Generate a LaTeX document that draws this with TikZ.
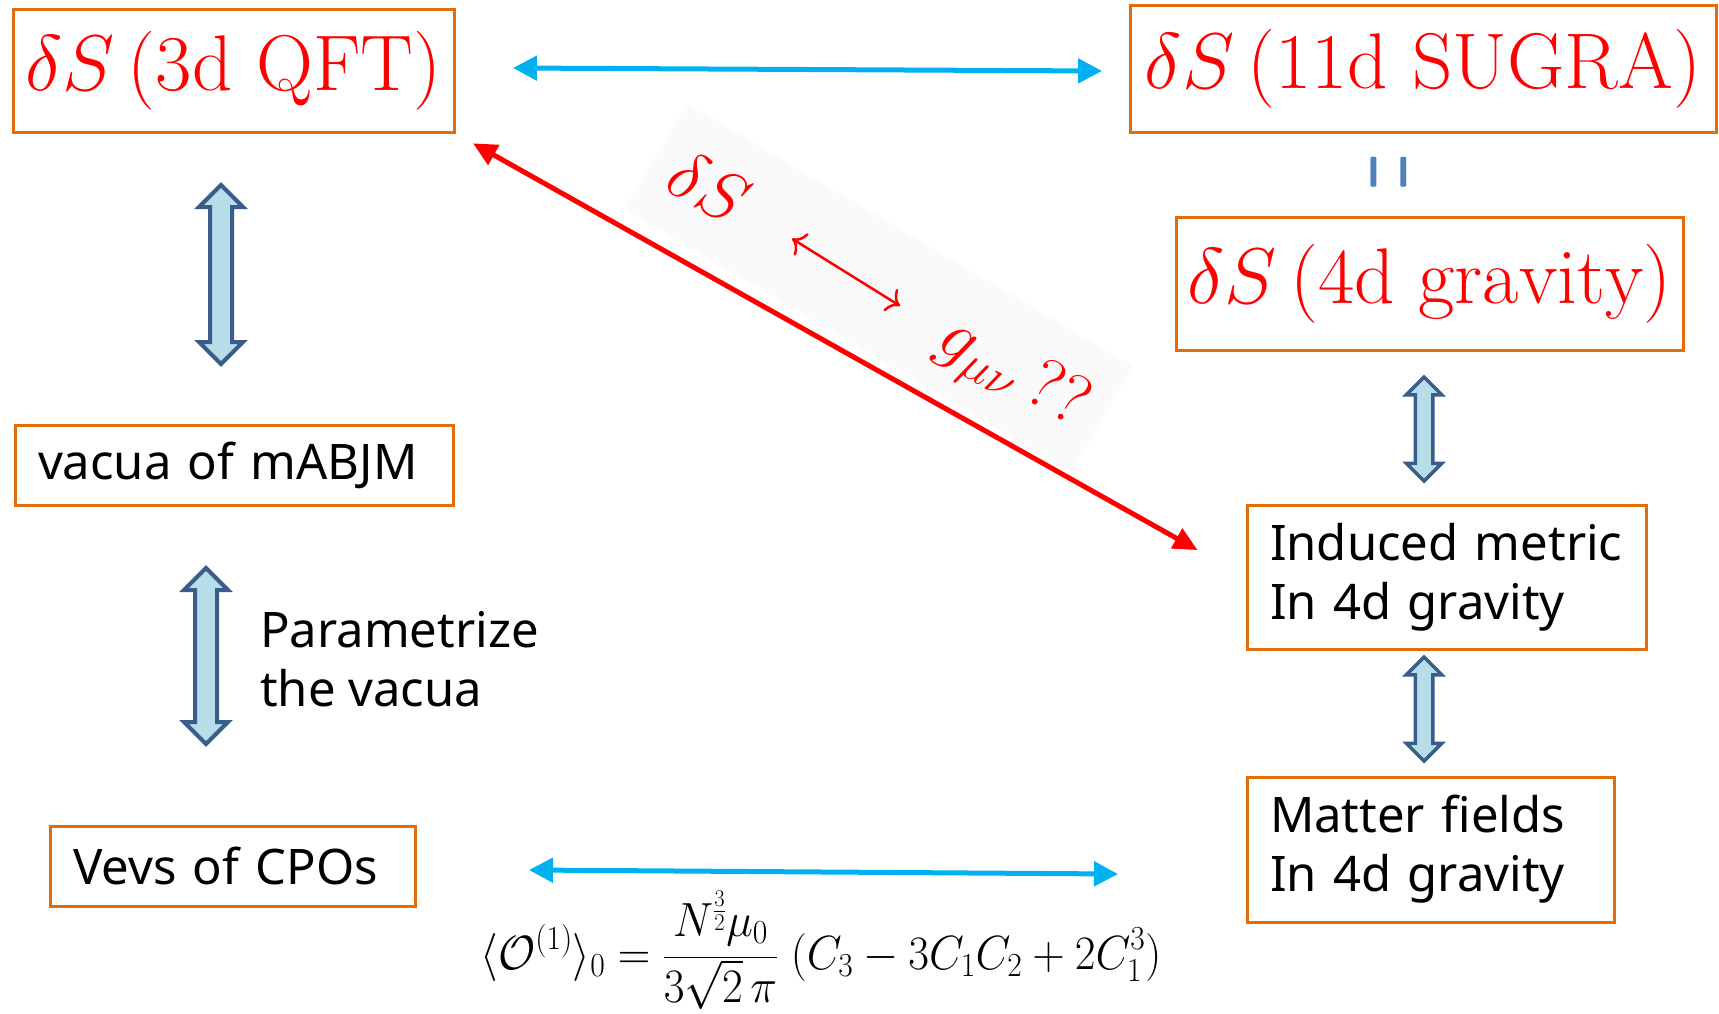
\RequirePackage{fix-cm}
\documentclass[tikz,border=0pt]{standalone}
\usepackage{fontspec}
\newfontfamily\boxfont{Noto Sans}
\usetikzlibrary{arrows.meta,shapes.arrows}
\definecolor{boxorange}{RGB}{228,108,10}
\definecolor{arrcyan}{RGB}{0,176,240}
\definecolor{fatblue}{RGB}{56,93,138}
\definecolor{fatfill}{RGB}{183,222,232}
\definecolor{eqblue}{RGB}{79,129,189}
\definecolor{lblgray}{RGB}{250,250,250}
\tikzset{
	redbox/.style={
		rectangle,
		draw=boxorange, line width=3pt,
		text=red,
		inner sep=0pt,
		font=\fontsize{79}{84}\selectfont},
	txtbox/.style={
		rectangle,
		draw=boxorange, line width=3pt,
		inner xsep=23pt, inner ysep=0pt,
		align=left,
		font=\boxfont\fontsize{49}{59}\selectfont},
	fatarr/.style={
		double arrow,
		draw=fatblue, fill=fatfill,
		line width=4pt,
		rotate=90,
		inner xsep=0pt, inner ysep=9pt,
		double arrow head extend=11pt,
		double arrow tip angle=90},
	fatarrs/.style={
		fatarr,
		line width=3.5pt,
		inner ysep=7pt,
		double arrow head extend=9pt},
	cyanarr/.style={
		{Triangle[length=24pt,width=24pt]}-{Triangle[length=24pt,width=24pt]},
		draw=arrcyan, line width=5pt},
	redarr/.style={
		{Triangle[length=24pt,width=22pt]}-{Triangle[length=24pt,width=22pt]},
		draw=red, line width=5pt},
	thinarr/.style={
		{Computer Modern Rightarrow[length=12pt,width=26pt]}-{Computer Modern Rightarrow[length=12pt,width=26pt]},
		draw=red, line width=2.5pt},
	lbltext/.style={
		text=red,
		inner sep=2pt,
		font=\fontsize{70}{74}\selectfont}
}

\begin{document}
\begin{tikzpicture}[x=1pt,y=1pt,yscale=-1,xscale=1]
\useasboundingbox (0,0) rectangle (1719,1013);

% label background
\node[fill=lblgray, rotate=-30.5, minimum width=518pt, minimum height=123pt] (lbl) at (879,288) {};

% Text Node
\node[redbox, minimum width=441pt, minimum height=123pt] (qft) at (233.5,70.5) {$\delta S\,(\mathrm{3d\ QFT})$};
% Text Node
\node[redbox, minimum width=586pt, minimum height=127pt] (sugra) at (1423,68.5) {$\delta S\,(\mathrm{11d\ SUGRA})$};
% Text Node
\node[redbox, minimum width=507pt, minimum height=133pt] (grav) at (1429.5,283.5) {$\delta S\,(\mathrm{4d\ gravity})$};
% Text Node
\node[rotate=90, text=eqblue, inner sep=0pt, font=\fontsize{48}{52}\selectfont] (eq) at (1400.5,172) {\scalebox{1}[3.5]{$=$}};

% Text Node
\node[txtbox, text width=392pt, minimum height=80pt] (vac) at (234,465) {vacua of mABJM};
% Text Node
\node[txtbox, text width=319pt, minimum height=80pt] (vev) at (232.5,866) {Vevs of CPOs};
% Text Node
\node[txtbox, text width=353pt, minimum height=144pt] (ind) at (1446.5,577) {Induced metric\\In 4d gravity};
% Text Node
\node[txtbox, text width=321pt, minimum height=145pt] (mat) at (1430.5,849.5) {Matter fields\\In 4d gravity};
% Text Node
\node[anchor=west, align=left, inner sep=0pt, font=\boxfont\fontsize{49}{59}\selectfont] (param) at (260,659) {Parametrize\\the vacua};

% fat arrows
\node[fatarr, minimum height=179pt] (fa1) at (221,274.5) {};
\node[fatarr, minimum height=176pt] (fa2) at (206,656) {};
\node[fatarrs, minimum height=104pt] (fa3) at (1424,429) {};
\node[fatarrs, minimum height=104pt] (fa4) at (1424,709) {};

% cyan arrows
\coordinate (t1) at (513,68);
\coordinate (t2) at (1102,71);
\coordinate (b1) at (529,870);
\coordinate (b2) at (1118,874);
\draw[cyanarr] (t1) -- (t2);
\draw[cyanarr] (b1) -- (b2);

% red arrow
\draw[redarr, shorten <=20pt, shorten >=55pt] (qft.south east) -- (ind.west);

% rotated label
\node[lbltext, rotate=-30] (ds) at (709,187) {$\delta S$};
\node[lbltext, rotate=-30] (gmn) at (1011,375) {$g_{\mu\nu}\,??$};
\draw[thinarr, shorten <=56pt, shorten >=48pt] (ds) -- (gmn);

% Text Node
\node[inner sep=0pt, font=\fontsize{48}{52}\selectfont] (obs) at (821,950) {\scalebox{0.94}[1]{$\displaystyle \langle\mathcal{O}^{(1)}\rangle_0=\frac{N^{\frac{3}{2}}\mu_0}{3\sqrt{2}\,\pi}\;\big(C_3-3C_1C_2+2C_1^3\big)$}};
\end{tikzpicture}
\end{document}
